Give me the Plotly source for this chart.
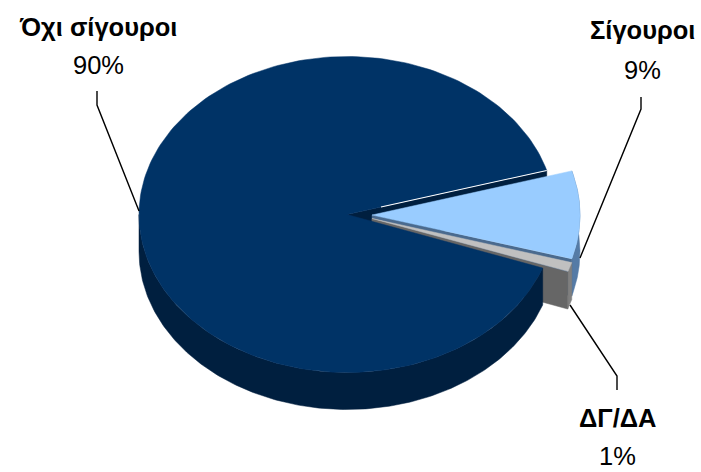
import numpy as np
import plotly.graph_objects as go

# Data
categories = ["Όχι σίγουροι", "Σίγουροι", "ΔΓ/ΔΑ"]
values = [90, 9, 1]
pct_labels = ["90%", "9%", "1%"]

# Geometry / style (pixel space of the 701x472 page)
W, H = 701, 472
RX, RY, DEPTH = 208, 158, 37
START = 16.2
CENTERS = [(347, 214.5), (372, 215), (372, 218.5)]
TOP = ["#003366", "#99CCFF", "#C0C0C0"]
RIM = ["#001F3F", "#557BA6", "#7F7F7F"]
RADIAL = ["#001F3F", "#4A6A8E", "#666666"]

total = sum(values)
spans = [v / total * 360 for v in values]
a0_big, a1_big = START, START + spans[0]
a0_lb, a1_lb = START - spans[1], START
a0_gr, a1_gr = a0_lb - spans[2], a0_lb


def rim(c, a0, a1, n=220):
    t = np.radians(np.linspace(a0, a1, n))
    return c[0] + RX * np.cos(t), c[1] - RY * np.sin(t)


fig = go.Figure()


def poly(x, y, color):
    fig.add_trace(go.Scatter(x=list(x), y=list(y), mode="lines", fill="toself",
                             fillcolor=color, line=dict(color=color, width=0.5),
                             hoverinfo="skip", showlegend=False))


def top(c, a0, a1, color):
    x, y = rim(c, a0, a1)
    poly(np.r_[c[0], x, c[0]], np.r_[c[1], y, c[1]], color)


def rim_wall(c, a0, a1, color):
    x, y = rim(c, a0, a1)
    poly(np.r_[x, x[::-1], x[0]], np.r_[y, y[::-1] + DEPTH, y[0]], color)


def radial_wall(c, a, color):
    x, y = rim(c, a, a, 2)
    px = [c[0], x[0], x[0], c[0], c[0]]
    py = [c[1], y[0], y[0] + DEPTH, c[1] + DEPTH, c[1]]
    poly(px, py, color)


# back-to-front
radial_wall(CENTERS[0], a0_big, RADIAL[0])
rim_wall(CENTERS[1], a0_lb, a1_lb, RIM[1])
radial_wall(CENTERS[1], a0_lb, RADIAL[1])
rim_wall(CENTERS[2], a0_gr, a1_gr, RIM[2])
radial_wall(CENTERS[2], a0_gr, RADIAL[2])
rim_wall(CENTERS[0], 180, a1_big, RIM[0])
top(CENTERS[0], a0_big, a1_big, TOP[0])
top(CENTERS[1], a0_lb, a1_lb, TOP[1])
top(CENTERS[2], a0_gr, a1_gr, TOP[2])

# white highlight on the big slice's cut edge
hx, hy = rim(CENTERS[0], a0_big, a0_big, 2)
fx = 0.17
fig.add_trace(go.Scatter(
    x=[CENTERS[0][0] + fx * (hx[0] - CENTERS[0][0]), hx[0]],
    y=[CENTERS[0][1] + fx * (hy[0] - CENTERS[0][1]), hy[0]],
    mode="lines", line=dict(color="#FFFFFF", width=1.1),
    hoverinfo="skip", showlegend=False))

# leader lines
LEADERS = [
    ([97, 97, 139], [91, 105, 211]),
    ([641, 641, 580], [97, 109, 258]),
    ([617, 617, 570], [390, 376, 305]),
]
for lx, ly in LEADERS:
    fig.add_trace(go.Scatter(x=lx, y=ly, mode="lines",
                             line=dict(color="#000000", width=1.4),
                             hoverinfo="skip", showlegend=False))

LABEL_POS = [(98, 27, 65), (642, 30, 70), (617, 418, 456)]
FONT = "Liberation Sans"
annotations = []
for name, pct, (x, y1, y2) in zip(categories, pct_labels, LABEL_POS):
    annotations.append(dict(x=x, y=y1, text=f"<b>{name}</b>", showarrow=False,
                            xanchor="center", yanchor="middle",
                            font=dict(family=FONT, size=25.5, color="#000000")))
    annotations.append(dict(x=x, y=y2, text=pct, showarrow=False,
                            xanchor="center", yanchor="middle",
                            font=dict(family=FONT, size=25.5, color="#000000")))

fig.update_layout(
    width=W, height=H, margin=dict(l=0, r=0, t=0, b=0),
    paper_bgcolor="white", plot_bgcolor="white",
    xaxis=dict(range=[0, W], visible=False, fixedrange=True),
    yaxis=dict(range=[H, 0], visible=False, fixedrange=True),
    annotations=annotations, showlegend=False,
)
fig.write_html("out.html", config={"displayModeBar": False},
               post_script="document.body.style.margin='0';document.documentElement.style.overflow='hidden';")
